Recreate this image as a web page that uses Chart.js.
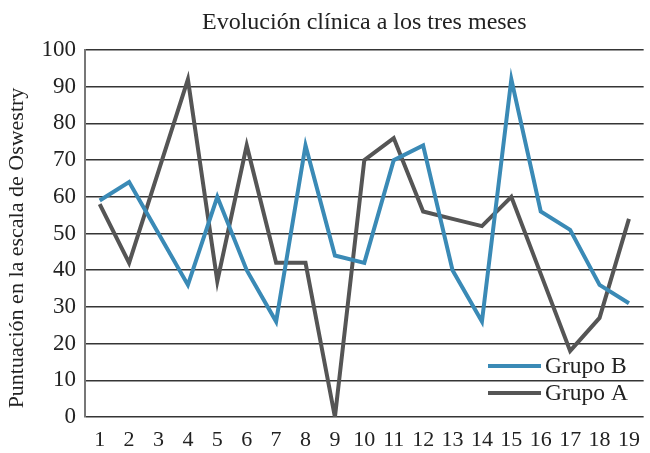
<!DOCTYPE html>
<html>
<head>
<meta charset="utf-8">
<script src="https://cdn.jsdelivr.net/npm/chart.js@4/dist/chart.umd.min.js"></script>
<style>
  html, body { margin: 0; padding: 0; background: #fff; }
  #wrap { width: 650px; height: 453px; }
</style>
</head>
<body>
<div id="wrap"><canvas id="chart" width="650" height="453"></canvas></div>
<script>
// 数据
const meses = ['1','2','3','4','5','6','7','8','9','10','11','12','13','14','15','16','17','18','19'];
const grupoB = [59, 64, 50, 36, 60, 40, 26, 74, 44, 42, 70, 74, 40, 26, 92, 56, 51, 36, 31];
const grupoA = [58, 42, 67, 92, 37, 74, 42, 42, 0, 70, 76, 56, 54, 52, 60, 39, 18, 27, 54];
const titulo = 'Evolución clínica a los tres meses';
const ejeY = 'Puntuación en la escala de Oswestry';

const azul = '#3a8ab6';
const gris = '#555555';
const fuente = "'Liberation Serif', 'Times New Roman', serif";

// 标题、Y轴标题和图例
const extras = {
    id: 'extras',
    afterDraw(chart) {
        const ctx = chart.ctx;
        const area = chart.chartArea;
        ctx.save();
        ctx.fillStyle = '#222';
        ctx.textBaseline = 'middle';

        // 标题
        ctx.font = '24px ' + fuente;
        ctx.textAlign = 'center';
        ctx.fillText(titulo, (area.left + area.right) / 2, 23);

        // Y轴标题（旋转）
        ctx.save();
        ctx.translate(17, 248);
        ctx.rotate(-Math.PI / 2);
        ctx.font = '22px ' + fuente;
        ctx.fillText(ejeY, 0, 0);
        ctx.restore();

        // 图例：Grupo B 在上
        const items = [chart.data.datasets[0], chart.data.datasets[1]];
        ctx.font = '23.5px ' + fuente;
        ctx.textAlign = 'left';
        items.forEach((ds, i) => {
            const y = 366 + i * 27;
            ctx.beginPath();
            ctx.moveTo(488, y);
            ctx.lineTo(541, y);
            ctx.strokeStyle = ds.borderColor;
            ctx.lineWidth = 4;
            ctx.stroke();
            ctx.fillStyle = '#222';
            ctx.fillText(ds.label, 545, y + 1);
        });
        ctx.restore();
    }
};

new Chart(document.getElementById('chart'), {
    type: 'line',
    data: {
        labels: meses,
        datasets: [
            {
                label: 'Grupo B',
                data: grupoB,
                borderColor: azul,
                borderWidth: 4,
                pointRadius: 0,
                tension: 0,
                fill: false
            },
            {
                label: 'Grupo A',
                data: grupoA,
                borderColor: gris,
                borderWidth: 4,
                pointRadius: 0,
                tension: 0,
                fill: false
            }
        ]
    },
    options: {
        responsive: false,
        animation: false,
        layout: { padding: { top: 50, right: 2, left: 0, bottom: 0 } },
        plugins: {
            legend: { display: false },
            title: { display: false },
            tooltip: { enabled: false }
        },
        scales: {
            x: {
                offset: true,
                grid: { display: false, drawTicks: false },
                border: { display: false },
                ticks: {
                    color: '#222',
                    font: { family: fuente, size: 22 },
                    padding: 10,
                    maxRotation: 0,
                    autoSkip: false
                },
                afterFit: s => { s.height = 36; }
            },
            y: {
                min: 0,
                max: 100,
                ticks: {
                    stepSize: 10,
                    color: '#222',
                    font: { family: fuente, size: 23 },
                    padding: 9
                },
                grid: { color: '#353535', lineWidth: 1.6, drawTicks: false },
                border: { display: true, color: '#777', width: 2 },
                afterFit: s => { s.width = 85; }
            }
        }
    },
    plugins: [extras]
});
</script>
</body>
</html>
